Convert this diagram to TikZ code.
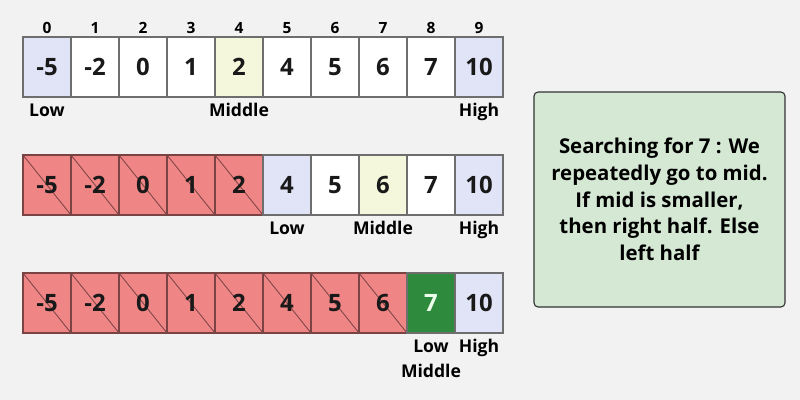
\documentclass[tikz,border=0pt]{standalone}
\usepackage{fontspec}
\setmainfont{Open Sans}
\usetikzlibrary{positioning}
\definecolor{bgcol}{HTML}{F2F2F2}
\definecolor{cellline}{HTML}{6E6E6E}
\definecolor{endcol}{HTML}{E0E4F6}
\definecolor{midcol}{HTML}{F4F7DC}
\definecolor{gonecol}{HTML}{EF8585}
\definecolor{goneline}{HTML}{7A4444}
\definecolor{foundcol}{HTML}{2E8B3E}
\definecolor{notecol}{HTML}{D5E8D4}
\tikzset{
    cell/.style={draw=cellline,line width=0.8pt,minimum width=1.2cm,minimum height=1.5cm,
        inner sep=0pt,font=\fontsize{17}{20}\selectfont\bfseries,text=black!90},
    plain/.style={cell,fill=white},
    ends/.style={cell,fill=endcol},
    mid/.style={cell,fill=midcol},
    gone/.style={cell,fill=gonecol,draw=goneline,
        path picture={\draw[goneline,line width=0.6pt] (path picture bounding box.north west) -- (path picture bounding box.south east);}},
    found/.style={cell,fill=foundcol,text=white!92!green},
    idx/.style={font=\fontsize{11}{13}\selectfont\bfseries,inner sep=1pt},
    tag/.style={font=\fontsize{12.5}{15}\selectfont\bfseries,inner sep=1pt}
}
\begin{document}
\begin{tikzpicture}[x=0.025cm,y=-0.025cm]
        \fill [bgcol] (0,0) rectangle (800,400);

        % first pass
        \foreach \v/\s [count=\i from 0] in {-5/ends,-2/plain,0/plain,1/plain,2/mid,4/plain,5/plain,6/plain,7/plain,10/ends}
            \node [\s] (a\i) at (47+48*\i,67) {\v};
        \foreach \i in {0,...,9}
            \node [idx, above=1pt of a\i] (n\i) {\i};
        \node [tag, below=3pt of a0] (low1) {Low};
        \node [tag, below=3pt of a4] (mid1) {Middle};
        \node [tag, below=3pt of a9] (high1) {High};

        % second pass
        \foreach \v/\s [count=\i from 0] in {-5/gone,-2/gone,0/gone,1/gone,2/gone,4/ends,5/plain,6/mid,7/plain,10/ends}
            \node [\s] (b\i) at (47+48*\i,185) {\v};
        \node [tag, below=3pt of b5] (low2) {Low};
        \node [tag, below=3pt of b7] (mid2) {Middle};
        \node [tag, below=3pt of b9] (high2) {High};

        % third pass
        \foreach \v/\s [count=\i from 0] in {-5/gone,-2/gone,0/gone,1/gone,2/gone,4/gone,5/gone,6/gone,7/found,10/ends}
            \node [\s] (c\i) at (47+48*\i,303) {\v};
        \node [tag, below=3pt of c8] (low3) {Low};
        \node [tag, below=3pt of c9] (high3) {High};
        \node [tag, below=6pt of low3] (mid3) {Middle};

        \node [draw=black!80, fill=notecol, rounded corners=3pt, line width=0.8pt,
            minimum width=6.275cm, minimum height=5.375cm, align=center,
            font=\fontsize{14.5}{19}\selectfont\bfseries] (note) at (659.5,199.5)
            {Searching for 7 : We\\repeatedly go to mid.\\If mid is smaller,\\then right half. Else\\left half};

    \end{tikzpicture}
\end{document}
